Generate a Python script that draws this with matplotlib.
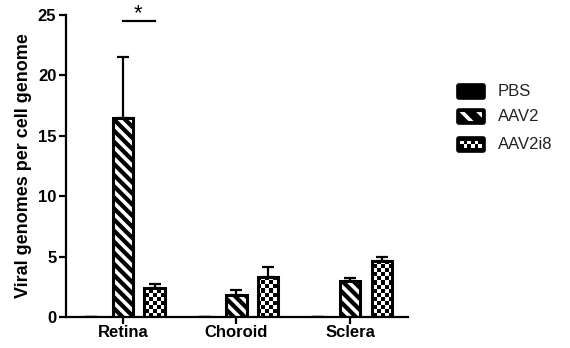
import matplotlib

matplotlib.use("Agg")
import matplotlib.pyplot as plt
import numpy as np
from matplotlib.patches import FancyBboxPatch, Rectangle

categories = ["Retina", "Choroid", "Sclera"]
series = ["PBS", "AAV2", "AAV2i8"]
pbs = [0.0, 0.0, 0.0]
pbs_err = [0.0, 0.0, 0.0]
aav2 = [16.5, 1.85, 2.95]
aav2_err = [5.0, 0.4, 0.25]
aav2i8 = [2.4, 3.35, 4.6]
aav2i8_err = [0.35, 0.75, 0.4]
yticks = [0, 5, 10, 15, 20, 25]

plt.rcParams["font.family"] = ["Liberation Sans", "DejaVu Sans"]
plt.rcParams["hatch.linewidth"] = 2.6

fig = plt.figure(figsize=(5.7, 3.48), dpi=100)
ax = fig.add_axes([0.1158, 0.089, 0.6, 0.868])

x = np.arange(len(categories))
offsets = [-0.28, 0.0, 0.28]
width = 0.18
edge_lw = 2.2
XLIM = (-0.5, 2.51)
YLIM = (0, 25)


def checker(rows, cols):
    return np.indices((rows, cols)).sum(0) % 2


big_checker = checker(75, 86)

for vals, errs, off, name in zip([pbs, aav2, aav2i8], [pbs_err, aav2_err, aav2i8_err], offsets, series):
    xs = x + off
    ax.errorbar(xs, vals, yerr=[np.zeros(len(errs)), errs], fmt="none", ecolor="black",
                elinewidth=1.6, capsize=4.5, capthick=1.6, zorder=1)
    if name == "PBS":
        ax.bar(xs, vals, width, color="black", edgecolor="black", linewidth=edge_lw, zorder=2)
    elif name == "AAV2":
        ax.bar(xs, vals, width, color="black", edgecolor="white", hatch="\\\\\\", linewidth=0, zorder=2)
        ax.bar(xs, vals, width, fill=False, edgecolor="black", linewidth=edge_lw, zorder=3)
    else:
        bars = ax.bar(xs, vals, width, color="white", linewidth=0, zorder=2)
        for b in bars:
            im = ax.imshow(big_checker, cmap="gray_r", extent=(*XLIM, *YLIM), aspect="auto",
                           interpolation="nearest", zorder=2.5, vmin=0, vmax=1)
            im.set_clip_path(b)
        ax.bar(xs, vals, width, fill=False, edgecolor="black", linewidth=edge_lw, zorder=3)

ax.set_xlim(*XLIM)
ax.set_ylim(*YLIM)
ax.set_xticks(x)
ax.set_xticklabels(categories, fontsize=12, fontweight="bold")
ax.set_yticks(yticks)
ax.set_yticklabels([str(t) for t in yticks], fontsize=12, fontweight="bold")
ax.set_ylabel("Viral genomes per cell genome", fontsize=13, fontweight="bold", labelpad=4)
for side in ("top", "right"):
    ax.spines[side].set_visible(False)
for side in ("left", "bottom"):
    ax.spines[side].set_linewidth(1.6)
ax.tick_params(width=1.6, length=5, pad=2)
ax.tick_params(axis="x", pad=1)

# significance bar between Retina AAV2 and AAV2i8
ax.plot([x[0] + offsets[1], x[0] + offsets[2]], [24.5, 24.5], color="black", lw=1.6, clip_on=False)
ax.text(x[0] + 0.13, 24.2, "*", ha="center", va="bottom", fontsize=16, clip_on=False)

# hand-made legend (checker swatch can't come from a standard hatch)
lax = fig.add_axes([0, 0, 1, 1], zorder=5)
lax.set_xlim(0, 570)
lax.set_ylim(348, 0)
lax.axis("off")
sw_x, sw_w, sw_h = 457, 28, 15
rows_y = [84, 109, 137]
for y0, name in zip(rows_y, series):
    box = FancyBboxPatch((sw_x, y0), sw_w, sw_h, boxstyle="round,pad=0,rounding_size=2",
                         facecolor="black", edgecolor="black", linewidth=1.2)
    lax.add_patch(box)
    if name == "AAV2":
        lax.add_patch(Rectangle((sw_x + 3, y0 + 3), sw_w - 6, sw_h - 6, facecolor="black",
                                edgecolor="white", hatch="\\\\", linewidth=0))
    elif name == "AAV2i8":
        lax.imshow(checker(2, 6), cmap="gray_r", extent=(sw_x + 3, sw_x + sw_w - 3, y0 + sw_h - 4, y0 + 4),
                   aspect="auto", interpolation="nearest", vmin=0, vmax=1, zorder=3)
    lax.text(498, y0 + sw_h / 2, name, ha="left", va="center", fontsize=12, color="#222222")

fig.savefig("out.png", dpi=100)
